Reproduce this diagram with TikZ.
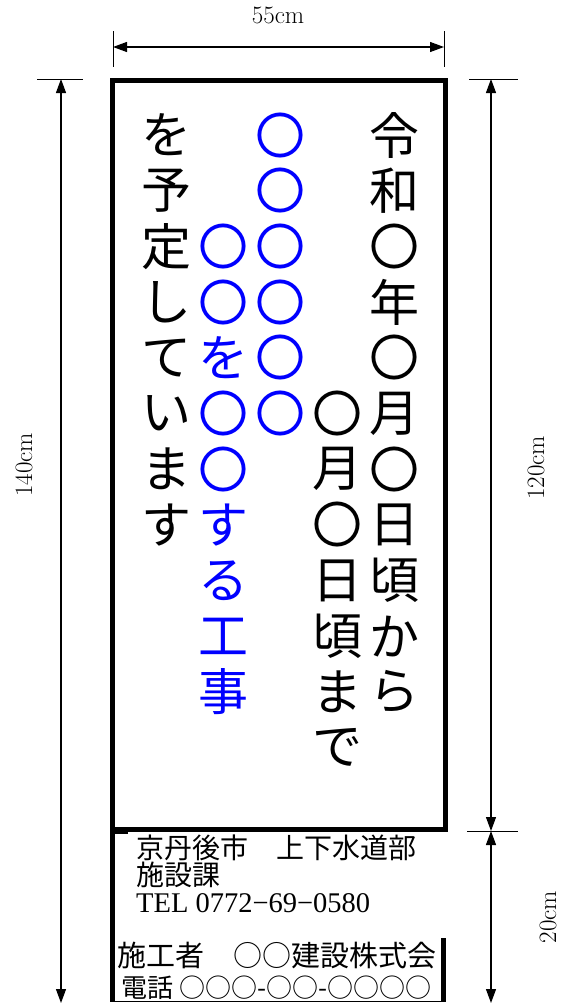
\documentclass[tikz,border=0pt]{standalone}
\usepackage{fontspec}
\newfontfamily\jp{Noto Sans CJK JP}
\newfontfamily\tel{Liberation Serif}
\usetikzlibrary{arrows.meta}
\definecolor{signblue}{RGB}{0,0,255}

\begin{document}
\begin{tikzpicture}[x=1pt,y=-1pt, >={Triangle[length=14pt,width=10pt]},
    frame/.style={line width=5pt},
    dim/.style={line width=1.2pt,<->},
    ext/.style={line width=0.6pt},
    dimlabel/.style={font=\fontsize{25}{28}\selectfont,inner sep=0pt},
    tate/.style={font=\jp\fontsize{50}{50}\selectfont,inner sep=0pt},
    info/.style={anchor=west,inner sep=0pt}]
    \useasboundingbox (0,0) rectangle (560,1004);
    % sign board
    \draw[frame] (112,80) rectangle (445,829);
    \draw[frame] (112,831) -- (112,1002);
    \draw[line width=3pt] (112,832) -- (128,832);
    \draw[frame] (443,938) -- (443,1002);
    \draw[line width=1pt] (112,1001.5) -- (443,1001.5);
    % vertical text, right to left
    \foreach \ch [count=\i from 0] in {令,和,〇,年,〇,月,〇,日,頃,か,ら}
        \node[tate] (ca\i) at (394,{135+55.7*\i}) {\ch};
    \foreach \ch [count=\i from 5] in {〇,月,〇,日,頃,ま,で}
        \node[tate] (cb\i) at (337,{135+55.7*\i}) {\ch};
    \foreach \ch [count=\i from 0] in {〇,〇,〇,〇,〇,〇}
        \node[tate,text=signblue] (cc\i) at (280,{135+55.7*\i}) {\ch};
    \foreach \ch [count=\i from 2] in {〇,〇,を,〇,〇,す,る,工,事}
        \node[tate,text=signblue] (cd\i) at (223,{135+55.7*\i}) {\ch};
    \foreach \ch [count=\i from 0] in {を,予,定,し,て,い,ま,す}
        \node[tate] (ce\i) at (166,{135+55.7*\i}) {\ch};
    % lower panel
    \node[info,font=\jp\fontsize{28}{30}\selectfont] (city) at (136,848) {京丹後市　上下水道部};
    \node[info,font=\jp\fontsize{28}{30}\selectfont] (sect) at (136,875) {施設課};
    \node[info,font=\tel\fontsize{28.5}{30}\selectfont] (tel) at (136,903) {TEL 0772−69−0580};
    \node[info,font=\jp\fontsize{29}{32}\selectfont] (builder) at (117,955) {施工者　○○建設株式会};
    \node[info,font=\jp\fontsize{26}{28}\selectfont] (phone) at (121,988) {電話 ○○○-○○-○○○○};
    % dimensions
    \coordinate (wl) at (113,47);
    \coordinate (wr) at (444,47);
    \draw[ext] (113,31) -- (113,67);
    \draw[ext] (444,31) -- (444,67);
    \draw[dim] (wl) -- (wr);
    \node[dimlabel] (wlab) at (278,15) {55cm};
    \coordinate (ht) at (61,79);
    \coordinate (hb) at (61,1003);
    \draw[ext] (37,79) -- (83,79);
    \draw[dim] (ht) -- (hb);
    \node[dimlabel,rotate=90] (hlab) at (24,465) {140cm};
    \coordinate (rt) at (491,79);
    \coordinate (rm) at (491,831);
    \coordinate (rb) at (491,1003);
    \draw[ext] (469,79) -- (518,79);
    \draw[ext] (467,831) -- (518,831);
    \draw[dim] (rt) -- (rm);
    \draw[dim] (rm) -- (rb);
    \node[dimlabel,rotate=90] (rlab) at (536,468) {120cm};
    \node[dimlabel,rotate=90] (slab) at (548,917) {20cm};
\end{tikzpicture}
\end{document}
